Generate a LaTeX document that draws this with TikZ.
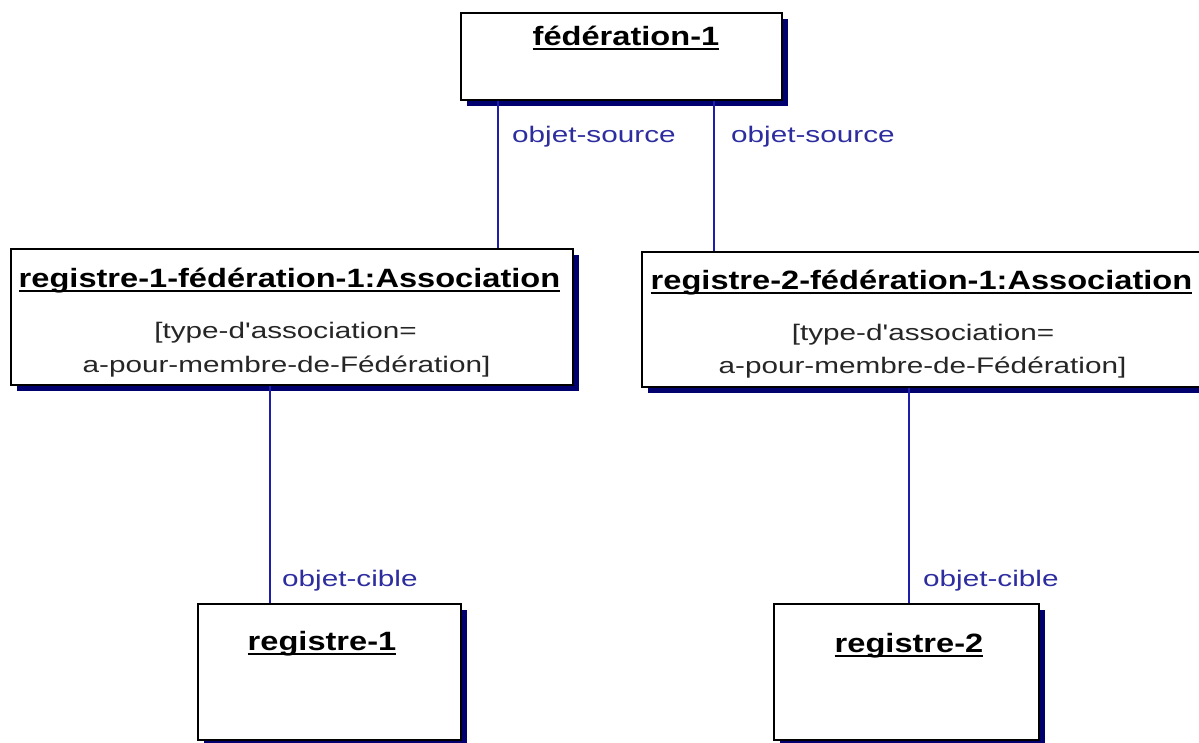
\documentclass[tikz,border=0pt]{standalone}
\usepackage{fontspec}
\newfontfamily\regfont[FakeStretch=1.32]{Liberation Sans}
\newfontfamily\titlefont[FakeStretch=1.23]{Liberation Sans}
\usetikzlibrary{shadows}

\definecolor{shadowblue}{RGB}{0,0,110}
\definecolor{linkblue}{RGB}{30,30,170}
\definecolor{labelblue}{RGB}{45,45,160}

% underlined object name with a heavy rule
\newcommand\ulname[1]{\setbox0\hbox{#1}\rlap{\rule[-4.8pt]{\wd0}{1.6pt}}\box0}

\tikzset{
  objbox/.style={rectangle, draw=black, line width=1.5pt, fill=white,
    inner sep=0pt, anchor=north west,
    copy shadow={shadow xshift=6pt, shadow yshift=-6pt, fill=shadowblue, draw=none}},
  titletext/.style={inner sep=0pt, anchor=base,
    font=\titlefont\bfseries\fontsize{26.5}{30}\selectfont},
  bodytext/.style={inner sep=0pt, anchor=base, text=black!85,
    font=\regfont\fontsize{22.5}{26}\selectfont},
  linklabel/.style={inner sep=0pt, anchor=base west, text=labelblue,
    font=\regfont\fontsize{22.5}{26}\selectfont},
  link/.style={draw=linkblue, line width=1.6pt}
}

\begin{document}
\begin{tikzpicture}[x=1pt, y=-1pt]
  \useasboundingbox (0,0) rectangle (1199,742);
  \clip (0,0) rectangle (1199,742);
  \fill[white] (0,0) rectangle (1199,742);

  % objects
  \node[objbox, minimum width=321pt, minimum height=87pt]  (fed) at (460,12)  {};
  \node[objbox, minimum width=562pt, minimum height=136pt] (a1)  at (10,248)  {};
  \node[objbox, minimum width=564pt, minimum height=135pt] (a2)  at (641,251) {};
  \node[objbox, minimum width=263pt, minimum height=136pt] (r1)  at (197,603) {};
  \node[objbox, minimum width=265pt, minimum height=136pt] (r2)  at (773,603) {};

  % object names and attributes
  \node[titletext] (fedt) at (626,45)    {\ulname{fédération-1}};
  \node[titletext] (a1t)  at (289.5,287) {\ulname{registre-1-fédération-1:Association}};
  \node[bodytext]  (a1c1) at (285.5,338) {[type-d'association=};
  \node[bodytext]  (a1c2) at (286.5,372) {a-pour-membre-de-Fédération]};
  \node[titletext] (a2t)  at (921.5,289) {\ulname{registre-2-fédération-1:Association}};
  \node[bodytext]  (a2c1) at (923,340)   {[type-d'association=};
  \node[bodytext]  (a2c2) at (922.5,373) {a-pour-membre-de-Fédération]};
  \node[titletext] (r1t)  at (322,650)   {\ulname{registre-1}};
  \node[titletext] (r2t)  at (909,652)   {\ulname{registre-2}};

  % link positions
  \coordinate (x1) at (498,0);
  \coordinate (x2) at (714,0);
  \coordinate (x3) at (270,0);
  \coordinate (x4) at (909,0);

  % links
  \draw[link] (fed.south -| x1) -- (a1.north -| x1);
  \draw[link] (fed.south -| x2) -- (a2.north -| x2);
  \draw[link] (a1.south -| x3) -- (r1.north -| x3);
  \draw[link] (a2.south -| x4) -- (r2.north -| x4);

  % role names
  \node[linklabel] (os1) at (512,142) {objet-source};
  \node[linklabel] (os2) at (731,142) {objet-source};
  \node[linklabel] (oc1) at (282,586) {objet-cible};
  \node[linklabel] (oc2) at (923,586) {objet-cible};
\end{tikzpicture}
\end{document}
